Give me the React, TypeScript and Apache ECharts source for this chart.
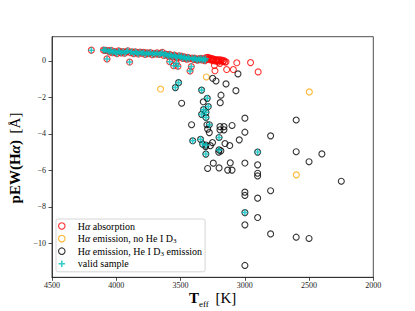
import React, { useEffect, useRef } from 'react';
import * as echarts from 'echarts';

// [Teff (K), pEW(Halpha) (Angstrom)]
const absorptionValid: [number, number][] = [
  [4194, 0.59], [4100, 0.6], [4090, 0.58], [4078, 0.58], [4072, 0.11], [4062, 0.55], [4050, 0.5], [4040, 0.58],
  [4030, 0.45], [4018, 0.52], [4005, 0.48], [3995, 0.4], [3982, 0.55], [3972, 0.5], [3960, 0.44], [3948, 0.52],
  [3935, 0.42], [3922, 0.5], [3910, 0.56], [3896, -0.06], [3890, 0.46], [3878, 0.5], [3865, 0.4], [3852, 0.5],
  [3840, 0.45], [3828, 0.38], [3815, 0.48], [3800, 0.42], [3788, 0.47], [3775, 0.36], [3762, 0.44], [3748, 0.4],
  [3735, 0.46], [3720, 0.35], [3708, 0.42], [3695, 0.38], [3682, 0.44], [3668, 0.36], [3655, 0.4], [3642, 0.47],
  [3630, 0.3], [3618, 0.38], [3606, 0.33], [3595, 0.27], [3586, 0.36], [3584, -0.04], [3572, 0.3], [3562, 0.22],
  [3553, -0.26], [3548, 0.32], [3538, 0.25], [3533, -0.13], [3528, 0.18], [3520, -0.29], [3512, 0.28], [3502, 0.2],
  [3492, 0.26], [3482, 0.14], [3472, 0.22], [3462, 0.17], [3452, 0.1], [3442, 0.2], [3432, 0.13], [3426, -0.55],
  [3416, -0.31], [3410, 0.16], [3400, 0.08], [3390, 0.15], [3380, 0.1], [3370, 0.04], [3360, 0.12], [3350, 0.07],
  [3340, 0.14], [3330, 0.05], [3320, 0.1], [3310, 0.02], [3305, 0.12],
];
const absorptionOnly: [number, number][] = [
  [3300, 0.18], [3292, 0.09], [3285, 0.2], [3279, 0.15], [3270, 0.07], [3262, 0.14], [3255, 0.04], [3250, 0.11],
  [3245, 0.01], [3240, 0.09], [3236, -0.24], [3232, -0.54], [3228, 0.0], [3222, 0.07], [3215, 0.03], [3208, -0.06],
  [3203, 0.02], [3198, 0.08], [3193, -0.13], [3186, 0.0], [3178, 0.05], [3170, -0.03], [3163, 0.02], [3155, -0.06],
  [3146, -0.05], [3141, -0.47], [3089, -0.47], [3062, -0.1], [2955, -0.09], [2896, -0.6],
];
const emissionNoHe: [number, number][] = [
  [3655, -1.54], [3299, -0.88], [2498, -1.7], [2599, -6.25],
];
const emissionHe: [number, number][] = [
  [3250, -0.95], [3224, -1.1], [3053, -0.71], [3146, -1.26], [3069, -1.63], [3185, -1.88], [3491, -2.32],
  [3323, -2.24], [3191, -2.29], [3414, -3.5], [3294, -3.5], [3289, -3.74], [3276, -3.93], [3193, -3.6],
  [3193, -3.78], [3162, -3.6], [3162, -3.78], [3099, -3.54], [2999, -3.14], [2999, -3.91], [3043, -4.33],
  [2799, -4.11], [2600, -3.24], [2600, -4.98], [2500, -5.53], [2400, -5.1], [2249, -6.6], [3154, -4.53],
  [3117, -4.64], [3251, -4.48], [3268, -4.65], [3305, -4.7], [3203, -5.0], [3186, -4.93], [3245, -5.61],
  [3289, -5.9], [3200, -5.87], [3133, -5.99], [3099, -5.99], [3113, -5.59], [2999, -5.6], [2900, -5.7],
  [2900, -6.16], [2900, -6.31], [2999, -7.2], [2999, -7.38], [2799, -7.12], [2900, -7.53], [2900, -8.59],
  [2999, -8.99], [2799, -9.49], [2600, -9.67], [2500, -9.74], [2999, -11.22],
];
const emissionHeValid: [number, number][] = [
  [3540, -1.46], [3515, -1.19], [3336, -1.6], [3292, -2.05], [3284, -2.5], [3321, -2.67], [3336, -2.93],
  [3302, -2.82], [3302, -3.1], [3276, -3.5], [3405, -4.38], [3344, -4.3], [3328, -4.56], [3302, -4.62],
  [3303, -5.11], [3200, -4.2], [3200, -4.88], [2900, -5.0], [2999, -8.32],
];
const xTicks = [4500, 4000, 3500, 3000, 2500, 2000];
const yTicks = [0, -2, -4, -6, -8, -10];

const FONT = "'Liberation Serif', 'DejaVu Serif', serif";
const PLUS = 'path://M3.8,0H6.2V3.8H10V6.2H6.2V10H3.8V6.2H0V3.8H3.8Z';
const RED = '#ff0000';
const ORANGE = '#ffa500';
const BLACK = '#000000';
const CYAN = '#00bfbf';

export default function App() {
  const ref = useRef<HTMLDivElement>(null);
  useEffect(() => {
    const chart = echarts.init(ref.current!, null, { renderer: 'svg' });
    const minus = (v: number) => (v < 0 ? '\u2212' + Math.abs(v) : String(v));
    const axisCol = '#222';
    const ring = (c: string) => ({ color: 'rgba(0,0,0,0)', borderColor: c, borderWidth: 1.1 });
    chart.setOption({
      animation: false,
      grid: {
        left: 52, right: 41.7, top: 36.7, bottom: 33.7,
        show: true, borderColor: axisCol, borderWidth: 0.8, backgroundColor: 'rgba(0,0,0,0)',
      },
      xAxis: {
        type: 'value', inverse: true, min: 2000, max: 4500, interval: 500,
        axisLine: { show: true, onZero: false, lineStyle: { color: axisCol, width: 0.8 } },
        axisTick: { show: true, length: 3.5, lineStyle: { color: axisCol, width: 0.8 }, customValues: xTicks },
        axisLabel: {
          fontSize: 8, fontFamily: FONT, color: '#222', margin: 4, customValues: xTicks,
          formatter: (v: number) => String(v),
        },
        splitLine: { show: false },
      },
      yAxis: {
        type: 'value', min: -11.87, max: 1.33,
        axisLine: { show: true, onZero: false, lineStyle: { color: axisCol, width: 0.8 } },
        axisTick: { show: true, length: 3.5, lineStyle: { color: axisCol, width: 0.8 }, customValues: yTicks },
        axisLabel: { fontSize: 8, fontFamily: FONT, color: '#222', margin: 6, customValues: yTicks, formatter: minus },
        splitLine: { show: false },
      },
      legend: {
        orient: 'vertical', left: 56, top: 219,
        itemWidth: 22, itemHeight: 6.5, itemGap: 0.6,
        padding: [1, 3, 2, 2],
        backgroundColor: 'rgba(255,255,255,0.8)', borderColor: '#cccccc', borderWidth: 0.8, borderRadius: 2,
        textStyle: {
          fontSize: 10, fontFamily: FONT, color: '#000', lineHeight: 12,
          rich: {
            it: { fontSize: 10, fontFamily: FONT, fontStyle: 'italic', color: '#000', lineHeight: 12 },
            sub: { fontSize: 7, fontFamily: FONT, color: '#000', lineHeight: 7, verticalAlign: 'bottom' },
          },
        },
        formatter: (name: string) => name.replace('α', '{it|α}').replace('D3', 'D{sub|3}'),
        data: [
          { name: 'Hα absorption', itemStyle: ring(RED) },
          { name: 'Hα emission, no He I D3', itemStyle: ring(ORANGE) },
          { name: 'Hα emission, He I D3 emission', itemStyle: ring(BLACK) },
          { name: 'valid sample', itemStyle: { color: CYAN, borderWidth: 0 } },
        ],
      },
      graphic: [
        {
          type: 'text', x: 15, y: 158, rotation: Math.PI / 2,
          style: {
            text: '{b|pEW(H}{bi|α}{b|)}  {n|[Å]}',
            align: 'center', verticalAlign: 'middle',
            rich: {
              b: { fontSize: 15, fontWeight: 'bold', fontFamily: FONT, fill: '#000' },
              bi: { fontSize: 15, fontWeight: 'bold', fontStyle: 'italic', fontFamily: FONT, fill: '#000' },
              n: { fontSize: 15, fontFamily: FONT, fill: '#000' },
            },
          },
        },
        {
          type: 'text', x: 212.7, y: 298,
          style: {
            text: '{b|T}{s|eff}  {n|[K]}',
            align: 'center', verticalAlign: 'middle',
            rich: {
              b: { fontSize: 15, fontWeight: 'bold', fontFamily: FONT, fill: '#000', lineHeight: 20, verticalAlign: 'middle' },
              s: { fontSize: 9, fontFamily: FONT, fill: '#000', lineHeight: 9, verticalAlign: 'bottom' },
              n: { fontSize: 15, fontFamily: FONT, fill: '#000', lineHeight: 20, verticalAlign: 'middle' },
            },
          },
        },
      ],
      series: [
        {
          name: 'Hα absorption', type: 'scatter', symbol: 'circle', symbolSize: 6,
          itemStyle: ring(RED), data: [...absorptionValid, ...absorptionOnly],
        },
        {
          name: 'Hα emission, no He I D3', type: 'scatter', symbol: 'circle', symbolSize: 6,
          itemStyle: ring(ORANGE), data: emissionNoHe,
        },
        {
          name: 'Hα emission, He I D3 emission', type: 'scatter', symbol: 'circle', symbolSize: 6,
          itemStyle: ring(BLACK), data: [...emissionHe, ...emissionHeValid],
        },
        {
          name: 'valid sample', type: 'scatter', symbol: PLUS, symbolSize: 6.5, symbolKeepAspect: true,
          itemStyle: { color: CYAN, borderWidth: 0 }, data: [...absorptionValid, ...emissionHeValid],
        },
      ],
    });
    return () => chart.dispose();
  }, []);
  return <div ref={ref} style={{ position: 'absolute', left: 0, top: 0, width: 415, height: 311 }} />;
}
